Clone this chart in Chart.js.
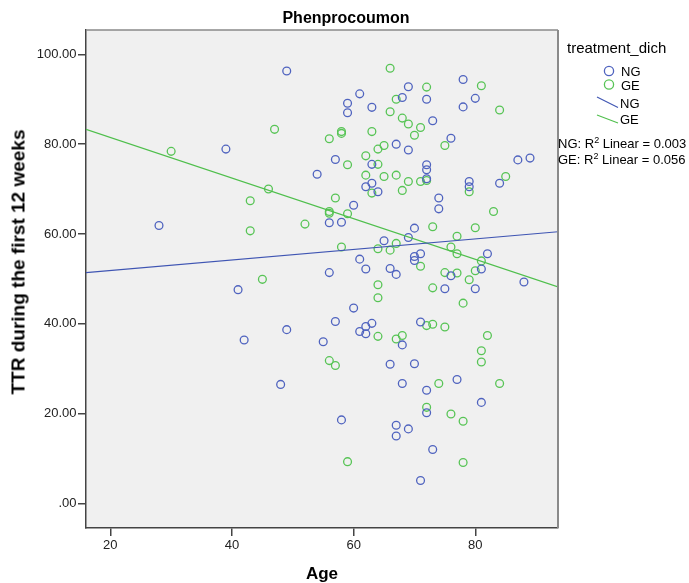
<!DOCTYPE html>
<html>
<head>
<meta charset="utf-8">
<script src="https://cdn.jsdelivr.net/npm/chart.js@4.4.1/dist/chart.umd.min.js"></script>
<style>
  html,body{margin:0;padding:0;background:#fff;}
  #wrap{position:relative;width:689px;height:583px;font-family:"Liberation Sans",Arial,sans-serif;color:#000;}
  #chart{position:absolute;left:0;top:0;}
  .title{position:absolute;left:0;width:692px;top:18px;transform:translateY(-50%);text-align:center;font-weight:bold;font-size:16px;line-height:1;}
  .ylab{position:absolute;left:18px;top:262px;transform:translate(-50%,-50%) rotate(-90deg);white-space:nowrap;font-weight:bold;font-size:19px;line-height:1;}
  .leg{position:absolute;white-space:nowrap;font-size:13px;line-height:1;transform:translateY(-50%);}
  .leg sup{font-size:9px;line-height:0;vertical-align:5px;}
  #legMarks{position:absolute;left:0;top:0;}
</style>
</head>
<body>
<div id="wrap">
  <canvas id="chart" width="689" height="583"></canvas>
  <div class="title">Phenprocoumon</div>
  <div class="ylab">TTR during the first 12 weeks</div>
  <div class="leg" style="left:567px;top:47px;font-size:15px;">treatment_dich</div>
  <div class="leg" style="left:621px;top:71px;">NG</div>
  <div class="leg" style="left:621px;top:85px;">GE</div>
  <div class="leg" style="left:620px;top:103px;">NG</div>
  <div class="leg" style="left:620px;top:119px;">GE</div>
  <div class="leg" style="left:558px;top:143px;">NG: R<sup>2</sup> Linear = 0.003</div>
  <div class="leg" style="left:558px;top:159px;">GE: R<sup>2</sup> Linear = 0.056</div>
  <svg id="legMarks" width="689" height="583">
    <circle cx="609" cy="71" r="4.6" fill="none" stroke="#4f63bf" stroke-width="1.3"/>
    <circle cx="609" cy="84.5" r="4.6" fill="none" stroke="#57c455" stroke-width="1.3"/>
    <line x1="597" y1="97" x2="618" y2="107.5" stroke="#3f55b3" stroke-width="1.2"/>
    <line x1="597" y1="115" x2="618" y2="123" stroke="#4fbf4c" stroke-width="1.2"/>
  </svg>
</div>
<script>
  // Data
  const ngAge = [49,39,28,41,49,42,48,78,69,61,59,59,68,72,63,78,80,73,76,67,69,57,63,54,72,72,72,79,79,84,87,89,
                 62,63,64,74,74,60,56,58,70,69,65,70,70,71,82,81,61,62,66,67,56,76,88,75,80,60,57,63,62,61,62,71,
                 68,55,66,70,68,72,77,81,72,58,67,67,69,73,71];
  const ngTTR = [96.3,78.9,61.9,47.6,38.7,36.4,26.5,94.4,92.8,91.2,89.1,87.0,90.4,90.0,88.2,88.3,90.2,85.2,81.3,80.0,78.7,76.6,75.5,73.3,75.4,74.3,72.3,71.7,70.5,71.3,76.5,76.9,
                 70.5,71.3,69.4,68.0,65.6,66.4,62.5,62.6,61.3,59.2,58.5,55.0,54.1,55.6,55.6,52.2,54.4,52.2,52.3,51.0,51.4,50.7,49.3,47.8,47.8,43.5,40.5,40.1,39.4,38.3,37.8,40.4,
                 35.3,36.0,31.0,31.1,26.7,25.2,27.6,22.5,20.2,18.6,17.4,15.0,16.6,12.0,5.1];

  const geAge = [47,30,46,43,43,52,45,66,81,72,67,84,66,68,69,71,70,63,58,58,56,75,65,64,62,59,64,62,65,67,71,72,69,79,85,63,68,57,
                 56,56,59,83,73,80,77,67,58,64,66,76,77,81,80,71,75,77,79,64,73,64,78,72,73,75,64,67,68,82,81,56,57,81,74,84,72,76,78,59,78];
  const geTTR = [83.3,78.4,70.0,67.4,60.7,62.2,49.9,96.9,93.0,92.7,90.0,87.6,87.2,85.8,84.5,83.7,82.0,82.8,82.8,82.4,81.2,79.7,79.7,78.9,77.4,75.4,75.5,73.1,72.8,73.1,71.7,71.9,71.7,69.4,72.8,69.1,69.7,68.0,
                 65.0,64.6,64.5,65.0,61.6,61.4,59.5,57.9,57.1,56.7,56.4,57.1,55.6,54.0,51.8,52.8,51.4,51.3,49.8,48.7,48.0,45.8,44.6,39.6,39.9,39.3,37.2,36.6,37.4,37.4,34.0,31.8,30.7,31.5,26.7,26.7,21.4,19.9,18.3,9.3,9.1];

  // Linear fit lines, value at each end of the age axis
  const fitAge = [16, 93.6];
  const ngFit = [51.4, 60.5];
  const geFit = [83.3, 48.2];

  const xTicks = [20, 40, 60, 80];
  const yTicks = [0, 20, 40, 60, 80, 100];

  const BLUE = '#4f63bf', GREEN = '#57c455';

  const pts = (xs, ys) => xs.map((x, i) => ({ x, y: ys[i] }));

  // Grey plot background and the light top/right frame
  const plotFrame = {
    id: 'plotFrame',
    beforeDraw(chart){
      const { ctx, chartArea: a } = chart;
      ctx.save();
      ctx.fillStyle = '#f0f0f0';
      ctx.fillRect(a.left, a.top, a.right - a.left, a.bottom - a.top);
      ctx.restore();
    },
    afterDraw(chart){
      const { ctx, chartArea: a } = chart;
      ctx.save();
      ctx.strokeStyle = '#8a8a8a';
      ctx.lineWidth = 1.5;
      ctx.beginPath();
      ctx.moveTo(a.left, a.top); ctx.lineTo(a.right, a.top);
      ctx.stroke();
      ctx.lineWidth = 2;
      ctx.beginPath();
      ctx.moveTo(a.right, a.top); ctx.lineTo(a.right, a.bottom);
      ctx.stroke();
      ctx.restore();
    }
  };

  const tickFont = { family: 'Liberation Sans', size: 13 };

  new Chart(document.getElementById('chart'), {
    type: 'scatter',
    data: {
      datasets: [
        { label: 'NG fit', data: pts(fitAge, ngFit), showLine: true, pointRadius: 0, borderColor: '#3f55b3', borderWidth: 1.2, order: 0 },
        { label: 'GE fit', data: pts(fitAge, geFit), showLine: true, pointRadius: 0, borderColor: '#4fbf4c', borderWidth: 1.2, order: 0 },
        { label: 'NG', data: pts(ngAge, ngTTR), pointRadius: 3.9, borderWidth: 1.3, borderColor: BLUE, backgroundColor: 'rgba(0,0,0,0)', order: 1 },
        { label: 'GE', data: pts(geAge, geTTR), pointRadius: 3.9, borderWidth: 1.3, borderColor: GREEN, backgroundColor: 'rgba(0,0,0,0)', order: 1 }
      ]
    },
    options: {
      responsive: false,
      animation: false,
      devicePixelRatio: 1,
      layout: { padding: { left: 0, right: 131, top: 30, bottom: 0 } },
      plugins: { legend: { display: false }, tooltip: { enabled: false } },
      scales: {
        x: {
          type: 'linear', min: 16, max: 93.6,
          afterFit(s){ s.height = 55; },
          afterBuildTicks(s){ s.ticks = xTicks.map(v => ({ value: v })); },
          ticks: { font: tickFont, color: '#222', padding: 2, maxRotation: 0 },
          grid: { drawOnChartArea: false, tickLength: 8, color: '#444', lineWidth: 1.5 },
          border: { color: '#444', width: 1.5 },
          title: { display: true, text: 'Age', color: '#000', font: { family: 'Liberation Sans', size: 17, weight: 'bold', lineHeight: 1 }, padding: { top: 0, bottom: 0.5 } }
        },
        y: {
          type: 'linear', min: -5.47, max: 105.42,
          afterFit(s){ s.width = 86; },
          afterBuildTicks(s){ s.ticks = yTicks.map(v => ({ value: v })); },
          ticks: { font: tickFont, color: '#222', padding: 1.5, callback: v => v === 0 ? '.00' : v.toFixed(2) },
          grid: { drawOnChartArea: false, tickLength: 8, color: '#444', lineWidth: 1.5 },
          border: { color: '#444', width: 1.5 }
        }
      }
    },
    plugins: [plotFrame]
  });
</script>
</body>
</html>
